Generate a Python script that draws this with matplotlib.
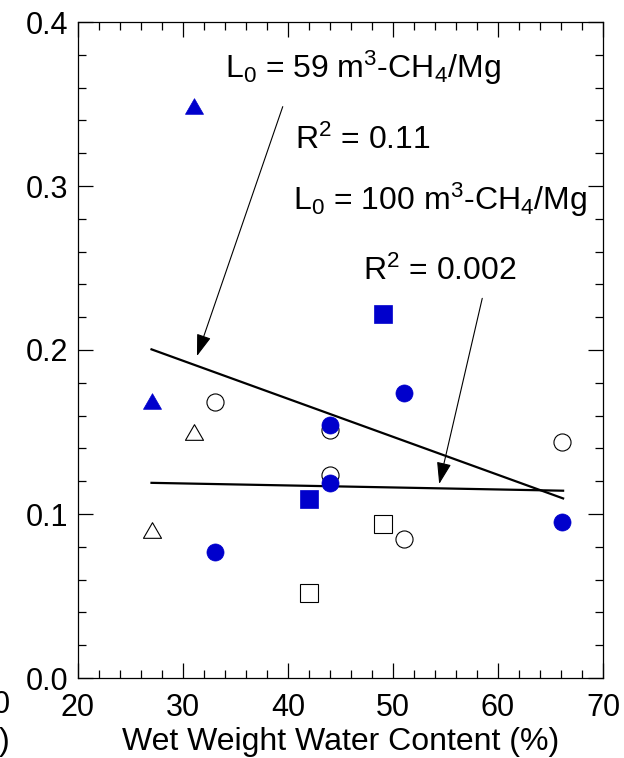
import numpy as np
import matplotlib
matplotlib.use("Agg")
import matplotlib.pyplot as plt
from matplotlib.path import Path
from matplotlib.ticker import MultipleLocator

plt.rcParams["font.family"] = ["Liberation Sans", "DejaVu Sans"]
plt.rcParams["mathtext.fontset"] = "custom"
plt.rcParams["mathtext.rm"] = "Liberation Sans"
plt.rcParams["mathtext.it"] = "Liberation Sans"
plt.rcParams["mathtext.default"] = "rm"

# --- data ---
open_tri_x = [27, 31]
open_tri_y = [0.090, 0.150]
blue_tri_x = [27, 31]
blue_tri_y = [0.169, 0.349]

open_circ_x = [33, 44, 44, 51, 66.1]
open_circ_y = [0.168, 0.151, 0.124, 0.085, 0.144]
blue_circ_x = [33, 44, 44, 51, 66.1]
blue_circ_y = [0.077, 0.154, 0.119, 0.174, 0.095]

open_sq_x = [42, 49]
open_sq_y = [0.052, 0.094]
blue_sq_x = [42, 49]
blue_sq_y = [0.109, 0.222]

fit_x = [27, 66.2]
fit59_y = [0.2004, 0.1095]
fit100_y = [0.119, 0.1142]

BLUE = "#0000CC"

# triangle a bit flatter than matplotlib's '^'
tri = Path([(-1, -0.866), (1, -0.866), (0, 0.866), (-1, -0.866)],
           [Path.MOVETO, Path.LINETO, Path.LINETO, Path.CLOSEPOLY])

fig = plt.figure(figsize=(6.24, 7.58), dpi=100)
ax = fig.add_axes([78 / 624, 80 / 758, 525 / 624, 656 / 758])

# fit lines
ax.plot(fit_x, fit59_y, color="k", lw=1.6, zorder=2)
ax.plot(fit_x, fit100_y, color="k", lw=1.6, zorder=2)

# open markers
ax.plot(open_tri_x, open_tri_y, ls="none", marker=tri, ms=13, mfc="white",
        mec="k", mew=0.8, zorder=3)
ax.plot(open_circ_x, open_circ_y, ls="none", marker="o", ms=12.3, mfc="white",
        mec="k", mew=0.8, zorder=3)
ax.plot(open_sq_x, open_sq_y, ls="none", marker="s", ms=13, mfc="white",
        mec="k", mew=0.8, zorder=3)

# filled markers
ax.plot(blue_tri_x, blue_tri_y, ls="none", marker=tri, ms=13, mfc=BLUE,
        mec=BLUE, mew=0.5, zorder=4)
ax.plot(blue_circ_x, blue_circ_y, ls="none", marker="o", ms=12.3, mfc=BLUE,
        mec=BLUE, mew=0.5, zorder=4)
ax.plot(blue_sq_x, blue_sq_y, ls="none", marker="s", ms=13, mfc=BLUE,
        mec=BLUE, mew=0.5, zorder=4)

# arrows
arrow_kw = dict(arrowstyle="-|>,head_length=1.35,head_width=0.45",
                mutation_scale=10, color="k", lw=0.8, shrinkA=0, shrinkB=0)
ax.annotate("", xy=(31.33, 0.1963), xytext=(39.5, 0.3484), arrowprops=arrow_kw)
ax.annotate("", xy=(54.4, 0.1183), xytext=(58.5, 0.2315), arrowprops=arrow_kw)


# annotations, placed by pixel position of their left baseline
def put(px, py, s):
    ax.text(20 + (px - 78) / 10.5, (678 - py) / 1640, s, fontsize=23,
            ha="left", va="baseline")


put(225, 78, r"L$_0$ = 59 m$^3$-CH$_4$/Mg")
put(295, 149, r"R$^2$ = 0.11")
put(293, 210, r"L$_0$ = 100 m$^3$-CH$_4$/Mg")
put(363, 280, r"R$^2$ = 0.002")

# axes
ax.set_xlim(20, 70)
ax.set_ylim(0, 0.4)
ax.xaxis.set_major_locator(MultipleLocator(10))
ax.xaxis.set_minor_locator(MultipleLocator(2))
ax.yaxis.set_major_locator(MultipleLocator(0.1))
ax.yaxis.set_minor_locator(MultipleLocator(0.02))
ax.yaxis.set_major_formatter(plt.FuncFormatter(lambda v, p: f"{v:.1f}"))
ax.tick_params(which="both", direction="in", top=True, right=True,
               labelsize=22, width=0.9)
ax.tick_params(which="major", length=11)
ax.tick_params(axis="x", which="major", pad=11)
ax.tick_params(axis="y", which="major", pad=7)
ax.tick_params(which="minor", length=6)
for s in ax.spines.values():
    s.set_linewidth(0.9)
ax.set_xlabel("Wet Weight Water Content (%)", fontsize=23, labelpad=3)

# pieces of the neighbouring panel cut off at the left edge
fig.text(11 / 624, 1 - 705 / 758, "70", fontsize=22, ha="right", va="center")
fig.text(-1 / 624, 1 - 742 / 758, ")", fontsize=23, ha="left", va="center")

fig.savefig("out.png", dpi=100)
